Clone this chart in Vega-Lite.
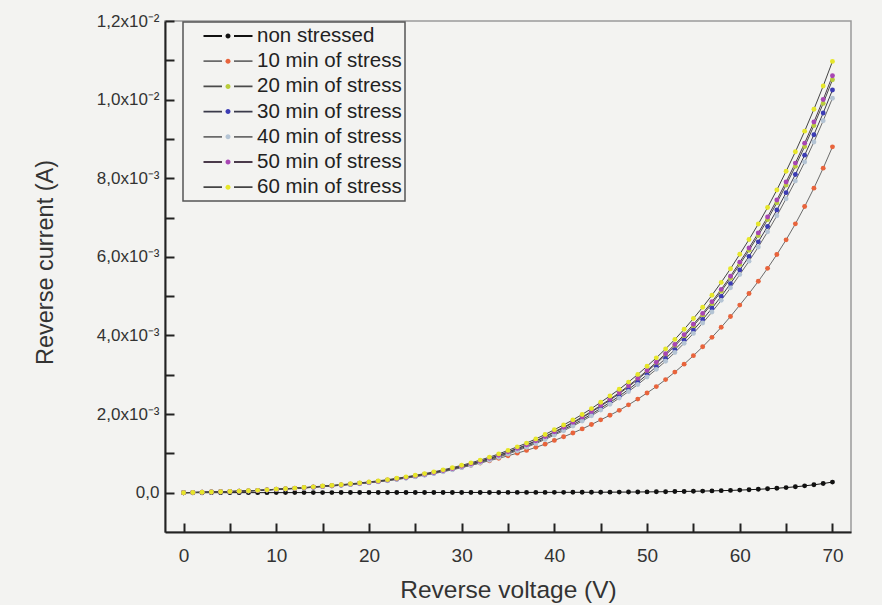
{
"$schema":"https://vega.github.io/schema/vega-lite/v6.json",
"width":686,"height":511,
"autosize":{"type":"none"},
"padding":{"left":165,"top":21,"right":31,"bottom":73},
"background":"#f3f3f1",
"config":{"font":"Liberation Sans","view":{"stroke":"#9a9a9a","strokeWidth":1.5},
"axis":{"grid":false,"ticks":true,"domainColor":"#222","domainWidth":2,"tickColor":"#222","tickWidth":2,"labelColor":"#333","titleColor":"#333","titleFontWeight":"normal","labelFont":"Liberation Sans","titleFont":"Liberation Sans"}},
"data":{"values":[
{"v":0,"s":"non stressed","i":0},{"v":1,"s":"non stressed","i":0.0002e-3},{"v":2,"s":"non stressed","i":0.0004e-3},{"v":3,"s":"non stressed","i":0.0005e-3},{"v":4,"s":"non stressed","i":0.0007e-3},{"v":5,"s":"non stressed","i":0.0009e-3},{"v":6,"s":"non stressed","i":0.0011e-3},{"v":7,"s":"non stressed","i":0.0013e-3},{"v":8,"s":"non stressed","i":0.0015e-3},{"v":9,"s":"non stressed","i":0.0016e-3},{"v":10,"s":"non stressed","i":0.0018e-3},{"v":11,"s":"non stressed","i":0.002e-3},{"v":12,"s":"non stressed","i":0.0022e-3},{"v":13,"s":"non stressed","i":0.0024e-3},{"v":14,"s":"non stressed","i":0.0026e-3},{"v":15,"s":"non stressed","i":0.0028e-3},{"v":16,"s":"non stressed","i":0.003e-3},{"v":17,"s":"non stressed","i":0.0032e-3},{"v":18,"s":"non stressed","i":0.0034e-3},{"v":19,"s":"non stressed","i":0.0036e-3},{"v":20,"s":"non stressed","i":0.0038e-3},{"v":21,"s":"non stressed","i":0.004e-3},{"v":22,"s":"non stressed","i":0.0042e-3},{"v":23,"s":"non stressed","i":0.0044e-3},{"v":24,"s":"non stressed","i":0.0046e-3},{"v":25,"s":"non stressed","i":0.0048e-3},{"v":26,"s":"non stressed","i":0.005e-3},{"v":27,"s":"non stressed","i":0.0052e-3},{"v":28,"s":"non stressed","i":0.0054e-3},{"v":29,"s":"non stressed","i":0.0056e-3},{"v":30,"s":"non stressed","i":0.0058e-3},{"v":31,"s":"non stressed","i":0.006e-3},{"v":32,"s":"non stressed","i":0.0062e-3},{"v":33,"s":"non stressed","i":0.0064e-3},{"v":34,"s":"non stressed","i":0.0066e-3},{"v":35,"s":"non stressed","i":0.0068e-3},{"v":36,"s":"non stressed","i":0.0071e-3},{"v":37,"s":"non stressed","i":0.0074e-3},{"v":38,"s":"non stressed","i":0.0077e-3},{"v":39,"s":"non stressed","i":0.008e-3},{"v":40,"s":"non stressed","i":0.0083e-3},{"v":41,"s":"non stressed","i":0.0088e-3},{"v":42,"s":"non stressed","i":0.0095e-3},{"v":43,"s":"non stressed","i":0.0102e-3},{"v":44,"s":"non stressed","i":0.011e-3},{"v":45,"s":"non stressed","i":0.012e-3},{"v":46,"s":"non stressed","i":0.0133e-3},{"v":47,"s":"non stressed","i":0.0147e-3},{"v":48,"s":"non stressed","i":0.0163e-3},{"v":49,"s":"non stressed","i":0.0181e-3},{"v":50,"s":"non stressed","i":0.02e-3},{"v":51,"s":"non stressed","i":0.0225e-3},{"v":52,"s":"non stressed","i":0.0253e-3},{"v":53,"s":"non stressed","i":0.0285e-3},{"v":54,"s":"non stressed","i":0.032e-3},{"v":55,"s":"non stressed","i":0.036e-3},{"v":56,"s":"non stressed","i":0.0406e-3},{"v":57,"s":"non stressed","i":0.0459e-3},{"v":58,"s":"non stressed","i":0.0518e-3},{"v":59,"s":"non stressed","i":0.0585e-3},{"v":60,"s":"non stressed","i":0.066e-3},{"v":61,"s":"non stressed","i":0.0756e-3},{"v":62,"s":"non stressed","i":0.0865e-3},{"v":63,"s":"non stressed","i":0.099e-3},{"v":64,"s":"non stressed","i":0.1134e-3},{"v":65,"s":"non stressed","i":0.13e-3},{"v":66,"s":"non stressed","i":0.15e-3},{"v":67,"s":"non stressed","i":0.174e-3},{"v":68,"s":"non stressed","i":0.201e-3},{"v":69,"s":"non stressed","i":0.233e-3},{"v":70,"s":"non stressed","i":0.27e-3},
{"v":0,"s":"10 min of stress","i":0},{"v":1,"s":"10 min of stress","i":0.005e-3},{"v":2,"s":"10 min of stress","i":0.011e-3},{"v":3,"s":"10 min of stress","i":0.017e-3},{"v":4,"s":"10 min of stress","i":0.023e-3},{"v":5,"s":"10 min of stress","i":0.03e-3},{"v":6,"s":"10 min of stress","i":0.037e-3},{"v":7,"s":"10 min of stress","i":0.0455e-3},{"v":8,"s":"10 min of stress","i":0.056e-3},{"v":9,"s":"10 min of stress","i":0.069e-3},{"v":10,"s":"10 min of stress","i":0.085e-3},{"v":11,"s":"10 min of stress","i":0.0965e-3},{"v":12,"s":"10 min of stress","i":0.1095e-3},{"v":13,"s":"10 min of stress","i":0.124e-3},{"v":14,"s":"10 min of stress","i":0.141e-3},{"v":15,"s":"10 min of stress","i":0.16e-3},{"v":16,"s":"10 min of stress","i":0.176e-3},{"v":17,"s":"10 min of stress","i":0.194e-3},{"v":18,"s":"10 min of stress","i":0.214e-3},{"v":19,"s":"10 min of stress","i":0.236e-3},{"v":20,"s":"10 min of stress","i":0.26e-3},{"v":21,"s":"10 min of stress","i":0.286e-3},{"v":22,"s":"10 min of stress","i":0.315e-3},{"v":23,"s":"10 min of stress","i":0.347e-3},{"v":24,"s":"10 min of stress","i":0.382e-3},{"v":25,"s":"10 min of stress","i":0.42e-3},{"v":26,"s":"10 min of stress","i":0.46e-3},{"v":27,"s":"10 min of stress","i":0.503e-3},{"v":28,"s":"10 min of stress","i":0.551e-3},{"v":29,"s":"10 min of stress","i":0.597e-3},{"v":30,"s":"10 min of stress","i":0.6468e-3},{"v":31,"s":"10 min of stress","i":0.6984e-3},{"v":32,"s":"10 min of stress","i":0.7546e-3},{"v":33,"s":"10 min of stress","i":0.8142e-3},{"v":34,"s":"10 min of stress","i":0.8742e-3},{"v":35,"s":"10 min of stress","i":0.9384e-3},{"v":36,"s":"10 min of stress","i":1.0056e-3},{"v":37,"s":"10 min of stress","i":1.0764e-3},{"v":38,"s":"10 min of stress","i":1.1534e-3},{"v":39,"s":"10 min of stress","i":1.2346e-3},{"v":40,"s":"10 min of stress","i":1.33e-3},{"v":41,"s":"10 min of stress","i":1.4216e-3},{"v":42,"s":"10 min of stress","i":1.5189e-3},{"v":43,"s":"10 min of stress","i":1.6228e-3},{"v":44,"s":"10 min of stress","i":1.7339e-3},{"v":45,"s":"10 min of stress","i":1.853e-3},{"v":46,"s":"10 min of stress","i":1.9705e-3},{"v":47,"s":"10 min of stress","i":2.095e-3},{"v":48,"s":"10 min of stress","i":2.2349e-3},{"v":49,"s":"10 min of stress","i":2.3814e-3},{"v":50,"s":"10 min of stress","i":2.5376e-3},{"v":51,"s":"10 min of stress","i":2.6992e-3},{"v":52,"s":"10 min of stress","i":2.8776e-3},{"v":53,"s":"10 min of stress","i":3.0677e-3},{"v":54,"s":"10 min of stress","i":3.2702e-3},{"v":55,"s":"10 min of stress","i":3.486e-3},{"v":56,"s":"10 min of stress","i":3.7118e-3},{"v":57,"s":"10 min of stress","i":3.9525e-3},{"v":58,"s":"10 min of stress","i":4.2089e-3},{"v":59,"s":"10 min of stress","i":4.482e-3},{"v":60,"s":"10 min of stress","i":4.7725e-3},{"v":61,"s":"10 min of stress","i":5.0663e-3},{"v":62,"s":"10 min of stress","i":5.3776e-3},{"v":63,"s":"10 min of stress","i":5.7079e-3},{"v":64,"s":"10 min of stress","i":6.059e-3},{"v":65,"s":"10 min of stress","i":6.4325e-3},{"v":66,"s":"10 min of stress","i":6.839e-3},{"v":67,"s":"10 min of stress","i":7.2795e-3},{"v":68,"s":"10 min of stress","i":7.7481e-3},{"v":69,"s":"10 min of stress","i":8.2567e-3},{"v":70,"s":"10 min of stress","i":8.7984e-3},
{"v":0,"s":"20 min of stress","i":0},{"v":1,"s":"20 min of stress","i":0.00505e-3},{"v":2,"s":"20 min of stress","i":0.0111e-3},{"v":3,"s":"20 min of stress","i":0.0172e-3},{"v":4,"s":"20 min of stress","i":0.0232e-3},{"v":5,"s":"20 min of stress","i":0.0303e-3},{"v":6,"s":"20 min of stress","i":0.0374e-3},{"v":7,"s":"20 min of stress","i":0.046e-3},{"v":8,"s":"20 min of stress","i":0.0566e-3},{"v":9,"s":"20 min of stress","i":0.0697e-3},{"v":10,"s":"20 min of stress","i":0.0859e-3},{"v":11,"s":"20 min of stress","i":0.0975e-3},{"v":12,"s":"20 min of stress","i":0.1106e-3},{"v":13,"s":"20 min of stress","i":0.1252e-3},{"v":14,"s":"20 min of stress","i":0.1424e-3},{"v":15,"s":"20 min of stress","i":0.1616e-3},{"v":16,"s":"20 min of stress","i":0.1778e-3},{"v":17,"s":"20 min of stress","i":0.1959e-3},{"v":18,"s":"20 min of stress","i":0.2161e-3},{"v":19,"s":"20 min of stress","i":0.2384e-3},{"v":20,"s":"20 min of stress","i":0.2626e-3},{"v":21,"s":"20 min of stress","i":0.2889e-3},{"v":22,"s":"20 min of stress","i":0.3182e-3},{"v":23,"s":"20 min of stress","i":0.3505e-3},{"v":24,"s":"20 min of stress","i":0.3858e-3},{"v":25,"s":"20 min of stress","i":0.4242e-3},{"v":26,"s":"20 min of stress","i":0.4646e-3},{"v":27,"s":"20 min of stress","i":0.508e-3},{"v":28,"s":"20 min of stress","i":0.5565e-3},{"v":29,"s":"20 min of stress","i":0.609e-3},{"v":30,"s":"20 min of stress","i":0.6666e-3},{"v":31,"s":"20 min of stress","i":0.7272e-3},{"v":32,"s":"20 min of stress","i":0.7939e-3},{"v":33,"s":"20 min of stress","i":0.8656e-3},{"v":34,"s":"20 min of stress","i":0.9444e-3},{"v":35,"s":"20 min of stress","i":1.0302e-3},{"v":36,"s":"20 min of stress","i":1.1161e-3},{"v":37,"s":"20 min of stress","i":1.208e-3},{"v":38,"s":"20 min of stress","i":1.309e-3},{"v":39,"s":"20 min of stress","i":1.417e-3},{"v":40,"s":"20 min of stress","i":1.5352e-3},{"v":41,"s":"20 min of stress","i":1.6503e-3},{"v":42,"s":"20 min of stress","i":1.7736e-3},{"v":43,"s":"20 min of stress","i":1.9059e-3},{"v":44,"s":"20 min of stress","i":2.0483e-3},{"v":45,"s":"20 min of stress","i":2.2018e-3},{"v":46,"s":"20 min of stress","i":2.3553e-3},{"v":47,"s":"20 min of stress","i":2.5189e-3},{"v":48,"s":"20 min of stress","i":2.6937e-3},{"v":49,"s":"20 min of stress","i":2.8805e-3},{"v":50,"s":"20 min of stress","i":3.0805e-3},{"v":51,"s":"20 min of stress","i":3.2845e-3},{"v":52,"s":"20 min of stress","i":3.5017e-3},{"v":53,"s":"20 min of stress","i":3.733e-3},{"v":54,"s":"20 min of stress","i":3.9794e-3},{"v":55,"s":"20 min of stress","i":4.242e-3},{"v":56,"s":"20 min of stress","i":4.5167e-3},{"v":57,"s":"20 min of stress","i":4.8096e-3},{"v":58,"s":"20 min of stress","i":5.1217e-3},{"v":59,"s":"20 min of stress","i":5.454e-3},{"v":60,"s":"20 min of stress","i":5.8075e-3},{"v":61,"s":"20 min of stress","i":6.165e-3},{"v":62,"s":"20 min of stress","i":6.5438e-3},{"v":63,"s":"20 min of stress","i":6.9458e-3},{"v":64,"s":"20 min of stress","i":7.373e-3},{"v":65,"s":"20 min of stress","i":7.8275e-3},{"v":66,"s":"20 min of stress","i":8.3022e-3},{"v":67,"s":"20 min of stress","i":8.8052e-3},{"v":68,"s":"20 min of stress","i":9.3385e-3},{"v":69,"s":"20 min of stress","i":9.9041e-3},{"v":70,"s":"20 min of stress","i":10.504e-3},
{"v":0,"s":"30 min of stress","i":0},{"v":1,"s":"30 min of stress","i":0.00493e-3},{"v":2,"s":"30 min of stress","i":0.0108e-3},{"v":3,"s":"30 min of stress","i":0.0167e-3},{"v":4,"s":"30 min of stress","i":0.0227e-3},{"v":5,"s":"30 min of stress","i":0.0296e-3},{"v":6,"s":"30 min of stress","i":0.0364e-3},{"v":7,"s":"30 min of stress","i":0.0448e-3},{"v":8,"s":"30 min of stress","i":0.0552e-3},{"v":9,"s":"30 min of stress","i":0.068e-3},{"v":10,"s":"30 min of stress","i":0.0837e-3},{"v":11,"s":"30 min of stress","i":0.0951e-3},{"v":12,"s":"30 min of stress","i":0.1079e-3},{"v":13,"s":"30 min of stress","i":0.1221e-3},{"v":14,"s":"30 min of stress","i":0.1389e-3},{"v":15,"s":"30 min of stress","i":0.1576e-3},{"v":16,"s":"30 min of stress","i":0.1734e-3},{"v":17,"s":"30 min of stress","i":0.1911e-3},{"v":18,"s":"30 min of stress","i":0.2108e-3},{"v":19,"s":"30 min of stress","i":0.2325e-3},{"v":20,"s":"30 min of stress","i":0.2561e-3},{"v":21,"s":"30 min of stress","i":0.2817e-3},{"v":22,"s":"30 min of stress","i":0.3103e-3},{"v":23,"s":"30 min of stress","i":0.3418e-3},{"v":24,"s":"30 min of stress","i":0.3763e-3},{"v":25,"s":"30 min of stress","i":0.4137e-3},{"v":26,"s":"30 min of stress","i":0.4531e-3},{"v":27,"s":"30 min of stress","i":0.4955e-3},{"v":28,"s":"30 min of stress","i":0.5427e-3},{"v":29,"s":"30 min of stress","i":0.594e-3},{"v":30,"s":"30 min of stress","i":0.6501e-3},{"v":31,"s":"30 min of stress","i":0.7092e-3},{"v":32,"s":"30 min of stress","i":0.7742e-3},{"v":33,"s":"30 min of stress","i":0.8441e-3},{"v":34,"s":"30 min of stress","i":0.921e-3},{"v":35,"s":"30 min of stress","i":1.0047e-3},{"v":36,"s":"30 min of stress","i":1.0884e-3},{"v":37,"s":"30 min of stress","i":1.1781e-3},{"v":38,"s":"30 min of stress","i":1.2766e-3},{"v":39,"s":"30 min of stress","i":1.382e-3},{"v":40,"s":"30 min of stress","i":1.4972e-3},{"v":41,"s":"30 min of stress","i":1.6095e-3},{"v":42,"s":"30 min of stress","i":1.7297e-3},{"v":43,"s":"30 min of stress","i":1.8587e-3},{"v":44,"s":"30 min of stress","i":1.9976e-3},{"v":45,"s":"30 min of stress","i":2.1473e-3},{"v":46,"s":"30 min of stress","i":2.297e-3},{"v":47,"s":"30 min of stress","i":2.4566e-3},{"v":48,"s":"30 min of stress","i":2.627e-3},{"v":49,"s":"30 min of stress","i":2.8092e-3},{"v":50,"s":"30 min of stress","i":3.0043e-3},{"v":51,"s":"30 min of stress","i":3.2032e-3},{"v":52,"s":"30 min of stress","i":3.415e-3},{"v":53,"s":"30 min of stress","i":3.6406e-3},{"v":54,"s":"30 min of stress","i":3.8809e-3},{"v":55,"s":"30 min of stress","i":4.137e-3},{"v":56,"s":"30 min of stress","i":4.4049e-3},{"v":57,"s":"30 min of stress","i":4.6906e-3},{"v":58,"s":"30 min of stress","i":4.9949e-3},{"v":59,"s":"30 min of stress","i":5.319e-3},{"v":60,"s":"30 min of stress","i":5.6638e-3},{"v":61,"s":"30 min of stress","i":6.0124e-3},{"v":62,"s":"30 min of stress","i":6.3818e-3},{"v":63,"s":"30 min of stress","i":6.7738e-3},{"v":64,"s":"30 min of stress","i":7.1905e-3},{"v":65,"s":"30 min of stress","i":7.6338e-3},{"v":66,"s":"30 min of stress","i":8.0967e-3},{"v":67,"s":"30 min of stress","i":8.5872e-3},{"v":68,"s":"30 min of stress","i":9.1073e-3},{"v":69,"s":"30 min of stress","i":9.6589e-3},{"v":70,"s":"30 min of stress","i":10.244e-3},
{"v":0,"s":"40 min of stress","i":0},{"v":1,"s":"40 min of stress","i":0.00483e-3},{"v":2,"s":"40 min of stress","i":0.0106e-3},{"v":3,"s":"40 min of stress","i":0.0164e-3},{"v":4,"s":"40 min of stress","i":0.0222e-3},{"v":5,"s":"40 min of stress","i":0.029e-3},{"v":6,"s":"40 min of stress","i":0.0357e-3},{"v":7,"s":"40 min of stress","i":0.0439e-3},{"v":8,"s":"40 min of stress","i":0.054e-3},{"v":9,"s":"40 min of stress","i":0.0666e-3},{"v":10,"s":"40 min of stress","i":0.082e-3},{"v":11,"s":"40 min of stress","i":0.0931e-3},{"v":12,"s":"40 min of stress","i":0.1057e-3},{"v":13,"s":"40 min of stress","i":0.1197e-3},{"v":14,"s":"40 min of stress","i":0.1361e-3},{"v":15,"s":"40 min of stress","i":0.1544e-3},{"v":16,"s":"40 min of stress","i":0.1698e-3},{"v":17,"s":"40 min of stress","i":0.1872e-3},{"v":18,"s":"40 min of stress","i":0.2065e-3},{"v":19,"s":"40 min of stress","i":0.2277e-3},{"v":20,"s":"40 min of stress","i":0.2509e-3},{"v":21,"s":"40 min of stress","i":0.276e-3},{"v":22,"s":"40 min of stress","i":0.304e-3},{"v":23,"s":"40 min of stress","i":0.3349e-3},{"v":24,"s":"40 min of stress","i":0.3686e-3},{"v":25,"s":"40 min of stress","i":0.4053e-3},{"v":26,"s":"40 min of stress","i":0.4439e-3},{"v":27,"s":"40 min of stress","i":0.4854e-3},{"v":28,"s":"40 min of stress","i":0.5317e-3},{"v":29,"s":"40 min of stress","i":0.5819e-3},{"v":30,"s":"40 min of stress","i":0.6369e-3},{"v":31,"s":"40 min of stress","i":0.6948e-3},{"v":32,"s":"40 min of stress","i":0.7585e-3},{"v":33,"s":"40 min of stress","i":0.827e-3},{"v":34,"s":"40 min of stress","i":0.9023e-3},{"v":35,"s":"40 min of stress","i":0.9843e-3},{"v":36,"s":"40 min of stress","i":1.0663e-3},{"v":37,"s":"40 min of stress","i":1.1541e-3},{"v":38,"s":"40 min of stress","i":1.2506e-3},{"v":39,"s":"40 min of stress","i":1.3539e-3},{"v":40,"s":"40 min of stress","i":1.4668e-3},{"v":41,"s":"40 min of stress","i":1.5768e-3},{"v":42,"s":"40 min of stress","i":1.6945e-3},{"v":43,"s":"40 min of stress","i":1.821e-3},{"v":44,"s":"40 min of stress","i":1.957e-3},{"v":45,"s":"40 min of stress","i":2.1037e-3},{"v":46,"s":"40 min of stress","i":2.2504e-3},{"v":47,"s":"40 min of stress","i":2.4067e-3},{"v":48,"s":"40 min of stress","i":2.5737e-3},{"v":49,"s":"40 min of stress","i":2.7522e-3},{"v":50,"s":"40 min of stress","i":2.9433e-3},{"v":51,"s":"40 min of stress","i":3.1382e-3},{"v":52,"s":"40 min of stress","i":3.3457e-3},{"v":53,"s":"40 min of stress","i":3.5666e-3},{"v":54,"s":"40 min of stress","i":3.8021e-3},{"v":55,"s":"40 min of stress","i":4.053e-3},{"v":56,"s":"40 min of stress","i":4.3155e-3},{"v":57,"s":"40 min of stress","i":4.5953e-3},{"v":58,"s":"40 min of stress","i":4.8935e-3},{"v":59,"s":"40 min of stress","i":5.211e-3},{"v":60,"s":"40 min of stress","i":5.5488e-3},{"v":61,"s":"40 min of stress","i":5.8904e-3},{"v":62,"s":"40 min of stress","i":6.2522e-3},{"v":63,"s":"40 min of stress","i":6.6363e-3},{"v":64,"s":"40 min of stress","i":7.0445e-3},{"v":65,"s":"40 min of stress","i":7.4788e-3},{"v":66,"s":"40 min of stress","i":7.9323e-3},{"v":67,"s":"40 min of stress","i":8.4129e-3},{"v":68,"s":"40 min of stress","i":8.9224e-3},{"v":69,"s":"40 min of stress","i":9.4628e-3},{"v":70,"s":"40 min of stress","i":10.036e-3},
{"v":0,"s":"50 min of stress","i":0},{"v":1,"s":"50 min of stress","i":0.0051e-3},{"v":2,"s":"50 min of stress","i":0.0112e-3},{"v":3,"s":"50 min of stress","i":0.0173e-3},{"v":4,"s":"50 min of stress","i":0.0235e-3},{"v":5,"s":"50 min of stress","i":0.0306e-3},{"v":6,"s":"50 min of stress","i":0.0377e-3},{"v":7,"s":"50 min of stress","i":0.0464e-3},{"v":8,"s":"50 min of stress","i":0.0571e-3},{"v":9,"s":"50 min of stress","i":0.0704e-3},{"v":10,"s":"50 min of stress","i":0.0867e-3},{"v":11,"s":"50 min of stress","i":0.0984e-3},{"v":12,"s":"50 min of stress","i":0.1117e-3},{"v":13,"s":"50 min of stress","i":0.1265e-3},{"v":14,"s":"50 min of stress","i":0.1438e-3},{"v":15,"s":"50 min of stress","i":0.1632e-3},{"v":16,"s":"50 min of stress","i":0.1795e-3},{"v":17,"s":"50 min of stress","i":0.1979e-3},{"v":18,"s":"50 min of stress","i":0.2183e-3},{"v":19,"s":"50 min of stress","i":0.2407e-3},{"v":20,"s":"50 min of stress","i":0.2652e-3},{"v":21,"s":"50 min of stress","i":0.2917e-3},{"v":22,"s":"50 min of stress","i":0.3213e-3},{"v":23,"s":"50 min of stress","i":0.3539e-3},{"v":24,"s":"50 min of stress","i":0.3896e-3},{"v":25,"s":"50 min of stress","i":0.4284e-3},{"v":26,"s":"50 min of stress","i":0.4692e-3},{"v":27,"s":"50 min of stress","i":0.5131e-3},{"v":28,"s":"50 min of stress","i":0.562e-3},{"v":29,"s":"50 min of stress","i":0.6151e-3},{"v":30,"s":"50 min of stress","i":0.6732e-3},{"v":31,"s":"50 min of stress","i":0.7344e-3},{"v":32,"s":"50 min of stress","i":0.8017e-3},{"v":33,"s":"50 min of stress","i":0.8741e-3},{"v":34,"s":"50 min of stress","i":0.9537e-3},{"v":35,"s":"50 min of stress","i":1.0404e-3},{"v":36,"s":"50 min of stress","i":1.1271e-3},{"v":37,"s":"50 min of stress","i":1.2199e-3},{"v":38,"s":"50 min of stress","i":1.3219e-3},{"v":39,"s":"50 min of stress","i":1.4311e-3},{"v":40,"s":"50 min of stress","i":1.5504e-3},{"v":41,"s":"50 min of stress","i":1.6667e-3},{"v":42,"s":"50 min of stress","i":1.7911e-3},{"v":43,"s":"50 min of stress","i":1.9247e-3},{"v":44,"s":"50 min of stress","i":2.0686e-3},{"v":45,"s":"50 min of stress","i":2.2236e-3},{"v":46,"s":"50 min of stress","i":2.3786e-3},{"v":47,"s":"50 min of stress","i":2.5439e-3},{"v":48,"s":"50 min of stress","i":2.7203e-3},{"v":49,"s":"50 min of stress","i":2.909e-3},{"v":50,"s":"50 min of stress","i":3.111e-3},{"v":51,"s":"50 min of stress","i":3.317e-3},{"v":52,"s":"50 min of stress","i":3.5363e-3},{"v":53,"s":"50 min of stress","i":3.7699e-3},{"v":54,"s":"50 min of stress","i":4.0188e-3},{"v":55,"s":"50 min of stress","i":4.284e-3},{"v":56,"s":"50 min of stress","i":4.5614e-3},{"v":57,"s":"50 min of stress","i":4.8572e-3},{"v":58,"s":"50 min of stress","i":5.1724e-3},{"v":59,"s":"50 min of stress","i":5.508e-3},{"v":60,"s":"50 min of stress","i":5.865e-3},{"v":61,"s":"50 min of stress","i":6.2261e-3},{"v":62,"s":"50 min of stress","i":6.6086e-3},{"v":63,"s":"50 min of stress","i":7.0145e-3},{"v":64,"s":"50 min of stress","i":7.446e-3},{"v":65,"s":"50 min of stress","i":7.905e-3},{"v":66,"s":"50 min of stress","i":8.3844e-3},{"v":67,"s":"50 min of stress","i":8.8924e-3},{"v":68,"s":"50 min of stress","i":9.4309e-3},{"v":69,"s":"50 min of stress","i":10.0021e-3},{"v":70,"s":"50 min of stress","i":10.608e-3},
{"v":0,"s":"60 min of stress","i":0},{"v":1,"s":"60 min of stress","i":0.00528e-3},{"v":2,"s":"60 min of stress","i":0.0116e-3},{"v":3,"s":"60 min of stress","i":0.0179e-3},{"v":4,"s":"60 min of stress","i":0.0243e-3},{"v":5,"s":"60 min of stress","i":0.0317e-3},{"v":6,"s":"60 min of stress","i":0.039e-3},{"v":7,"s":"60 min of stress","i":0.048e-3},{"v":8,"s":"60 min of stress","i":0.0591e-3},{"v":9,"s":"60 min of stress","i":0.0728e-3},{"v":10,"s":"60 min of stress","i":0.0897e-3},{"v":11,"s":"60 min of stress","i":0.1018e-3},{"v":12,"s":"60 min of stress","i":0.1155e-3},{"v":13,"s":"60 min of stress","i":0.1308e-3},{"v":14,"s":"60 min of stress","i":0.1488e-3},{"v":15,"s":"60 min of stress","i":0.1688e-3},{"v":16,"s":"60 min of stress","i":0.1857e-3},{"v":17,"s":"60 min of stress","i":0.2047e-3},{"v":18,"s":"60 min of stress","i":0.2258e-3},{"v":19,"s":"60 min of stress","i":0.249e-3},{"v":20,"s":"60 min of stress","i":0.2743e-3},{"v":21,"s":"60 min of stress","i":0.3017e-3},{"v":22,"s":"60 min of stress","i":0.3323e-3},{"v":23,"s":"60 min of stress","i":0.3661e-3},{"v":24,"s":"60 min of stress","i":0.403e-3},{"v":25,"s":"60 min of stress","i":0.4431e-3},{"v":26,"s":"60 min of stress","i":0.4853e-3},{"v":27,"s":"60 min of stress","i":0.5307e-3},{"v":28,"s":"60 min of stress","i":0.5813e-3},{"v":29,"s":"60 min of stress","i":0.6362e-3},{"v":30,"s":"60 min of stress","i":0.6963e-3},{"v":31,"s":"60 min of stress","i":0.7596e-3},{"v":32,"s":"60 min of stress","i":0.8292e-3},{"v":33,"s":"60 min of stress","i":0.9041e-3},{"v":34,"s":"60 min of stress","i":0.9864e-3},{"v":35,"s":"60 min of stress","i":1.0761e-3},{"v":36,"s":"60 min of stress","i":1.1658e-3},{"v":37,"s":"60 min of stress","i":1.2618e-3},{"v":38,"s":"60 min of stress","i":1.3673e-3},{"v":39,"s":"60 min of stress","i":1.4802e-3},{"v":40,"s":"60 min of stress","i":1.6036e-3},{"v":41,"s":"60 min of stress","i":1.7239e-3},{"v":42,"s":"60 min of stress","i":1.8526e-3},{"v":43,"s":"60 min of stress","i":1.9908e-3},{"v":44,"s":"60 min of stress","i":2.1395e-3},{"v":45,"s":"60 min of stress","i":2.2999e-3},{"v":46,"s":"60 min of stress","i":2.4603e-3},{"v":47,"s":"60 min of stress","i":2.6312e-3},{"v":48,"s":"60 min of stress","i":2.8137e-3},{"v":49,"s":"60 min of stress","i":3.0089e-3},{"v":50,"s":"60 min of stress","i":3.2178e-3},{"v":51,"s":"60 min of stress","i":3.4309e-3},{"v":52,"s":"60 min of stress","i":3.6577e-3},{"v":53,"s":"60 min of stress","i":3.8993e-3},{"v":54,"s":"60 min of stress","i":4.1567e-3},{"v":55,"s":"60 min of stress","i":4.431e-3},{"v":56,"s":"60 min of stress","i":4.718e-3},{"v":57,"s":"60 min of stress","i":5.0239e-3},{"v":58,"s":"60 min of stress","i":5.3499e-3},{"v":59,"s":"60 min of stress","i":5.697e-3},{"v":60,"s":"60 min of stress","i":6.0663e-3},{"v":61,"s":"60 min of stress","i":6.4397e-3},{"v":62,"s":"60 min of stress","i":6.8353e-3},{"v":63,"s":"60 min of stress","i":7.2552e-3},{"v":64,"s":"60 min of stress","i":7.7015e-3},{"v":65,"s":"60 min of stress","i":8.1763e-3},{"v":66,"s":"60 min of stress","i":8.6721e-3},{"v":67,"s":"60 min of stress","i":9.1975e-3},{"v":68,"s":"60 min of stress","i":9.7545e-3},{"v":69,"s":"60 min of stress","i":10.3453e-3},{"v":70,"s":"60 min of stress","i":10.972e-3}
]},
"encoding":{
"x":{"field":"v","type":"quantitative","scale":{"domain":[-2,72],"nice":false,"zero":false},
"axis":{"values":[0,5,10,15,20,25,30,35,40,45,50,55,60,65,70],"labelExpr":"datum.value % 10 === 0 ? datum.label : ''","tickSize":-9,"encode":{"ticks":{"update":{"y2":{"signal":"datum.value % 10 === 0 ? -9 : -5"}}}},"labelPadding":23,"labelFontSize":19,"title":"Reverse voltage (V)","titleFontSize":24.5,"titleBaseline":"alphabetic","titleY":65,"titleX":343,"titleAnchor":null,"titleAlign":"center"}},
"y":{"field":"i","type":"quantitative","scale":{"domain":[-0.001,0.012],"nice":false,"zero":false},
"axis":{"values":[0,0.001,0.002,0.003,0.004,0.005,0.006,0.007,0.008,0.009,0.01,0.011,0.012],"labelExpr":"round(datum.value*1000) % 2 !== 0 ? '' : round(datum.value*1000) === 0 ? '0,0' : round(datum.value*1000) >= 10 ? replace(format(datum.value*100, '.1f'), '.', ',') + 'x10⁻²' : replace(format(datum.value*1000, '.1f'), '.', ',') + 'x10⁻³'","tickSize":-9,"encode":{"ticks":{"update":{"x2":{"signal":"round(datum.value*1000) % 2 === 0 ? 9 : 5"}}}},"labelPadding":15,"labelFontSize":17,"title":"Reverse current (A)","titleFontSize":23.5,"titleBaseline":"alphabetic","titleX":-113,"titleY":241,"titleAnchor":null,"titleAlign":"center","titleAngle":-90}}
},
"layer":[
{"mark":{"type":"line","strokeWidth":1},
"encoding":{"stroke":{"field":"s","type":"nominal","sort":["non stressed","10 min of stress","20 min of stress","30 min of stress","40 min of stress","50 min of stress","60 min of stress"],
"scale":{"range":["#111111","#6a6a6a","#4a4a4a","#3a3a4a","#6a6a6a","#4a3a4a","#444444"]},
"legend":{"orient":"none","legendX":18,"legendY":1,"title":null,"symbolType":"M-2.45,0H-0.6M0.6,0H2.45","symbolSize":400,"symbolStrokeWidth":1.8,"labelFontSize":20.5,"labelColor":"#222","labelFont":"Liberation Sans","padding":3,"symbolOffset":31,"labelOffset":18,"rowPadding":3.2,"strokeColor":"#555","encode":{"legend":{"update":{"strokeWidth":{"value":1.5}}}}}}}},
{"mark":{"type":"point","filled":true,"opacity":1,"size":24},
"encoding":{"fill":{"field":"s","type":"nominal","scale":{"domain":["non stressed","10 min of stress","20 min of stress","30 min of stress","40 min of stress","50 min of stress","60 min of stress"],"range":["#111111","#e8643c","#b9cc3c","#3c3cb4","#b4c4d4","#a846b4","#e6e62a"]},
"legend":{"orient":"none","legendX":18,"legendY":1,"title":null,"symbolType":"M-0.25,0A0.25,0.25 0 1,1 0.25,0A0.25,0.25 0 1,1 -0.25,0Z","symbolSize":400,"symbolStrokeWidth":1.8,"symbolStrokeColor":"transparent","labelFontSize":20.5,"labelColor":"transparent","labelFont":"Liberation Sans","padding":3,"symbolOffset":31,"labelOffset":18,"rowPadding":3.2}}}}
]
}
